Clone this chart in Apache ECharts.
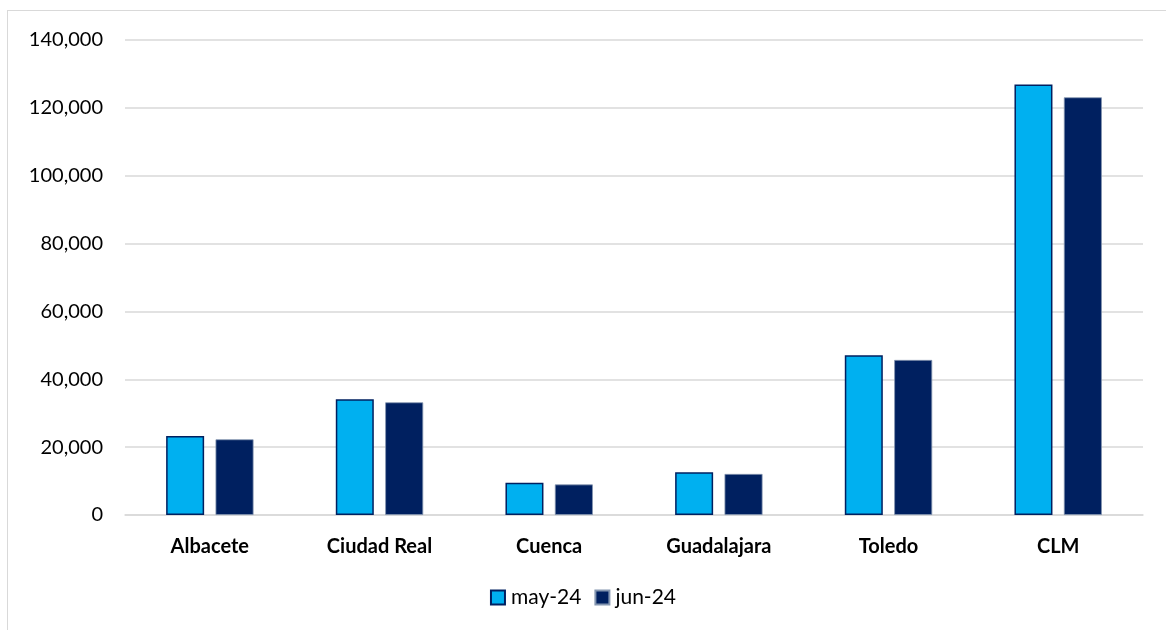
<!DOCTYPE html>
<html>
<head>
<meta charset="utf-8">
<script src="https://cdn.jsdelivr.net/npm/echarts@6/dist/echarts.min.js"></script>
<style>
  html, body { margin: 0; padding: 0; background: #fff; }
  #frame { position: absolute; left: 7px; top: 10px; width: 1170px; height: 640px;
           border-left: 1px solid #D9D9D9; border-top: 1px solid #D9D9D9; }
  #chart { position: absolute; left: 0; top: 0; width: 1166px; height: 630px; }
</style>
</head>
<body>
<div id="frame"></div>
<div id="chart"></div>
<script>
const categories = ['Albacete', 'Ciudad Real', 'Cuenca', 'Guadalajara', 'Toledo', 'CLM'];
const may24 = [23300, 34100, 9500, 12600, 47100, 126900];
const jun24 = [22300, 33200, 9000, 12100, 45700, 123100];

const chart = echarts.init(document.getElementById('chart'));
const font = 'Lato, "Open Sans", sans-serif';

chart.setOption({
    animation: false,
    grid: { left: 125, right: 23, top: 40, bottom: 115 },
    legend: {
        bottom: 17,
        left: 'center',
        itemWidth: 14,
        itemHeight: 14,
        itemGap: 13,
        icon: 'rect',
        textStyle: { fontFamily: font, fontSize: 21, color: '#000', padding: [0, 0, 0, 1] },
        data: ['may-24', 'jun-24']
    },
    xAxis: {
        type: 'category',
        data: categories,
        axisTick: { show: false },
        axisLine: { lineStyle: { color: '#D9D9D9', width: 1.5 } },
        axisLabel: { fontFamily: font, fontSize: 20, fontWeight: 'bold', color: '#000', margin: 22 }
    },
    yAxis: {
        type: 'value',
        min: 0,
        max: 140000,
        interval: 20000,
        axisLine: { show: false },
        axisTick: { show: false },
        splitLine: { lineStyle: { color: '#D9D9D9', width: 1.5 } },
        axisLabel: {
            fontFamily: font, fontSize: 20, color: '#000', margin: 22,
            formatter: v => v.toLocaleString('en-US')
        }
    },
    series: [
        {
            name: 'may-24', type: 'bar', data: may24,
            barWidth: 38, barGap: '30%', barCategoryGap: '49%',
            itemStyle: { color: '#00B0F0', borderColor: '#002060', borderWidth: 1.5 }
        },
        {
            name: 'jun-24', type: 'bar', data: jun24,
            barWidth: 38,
            itemStyle: { color: '#002060', borderColor: '#8496B0', borderWidth: 0.8 }
        }
    ]
});
</script>
</body>
</html>
